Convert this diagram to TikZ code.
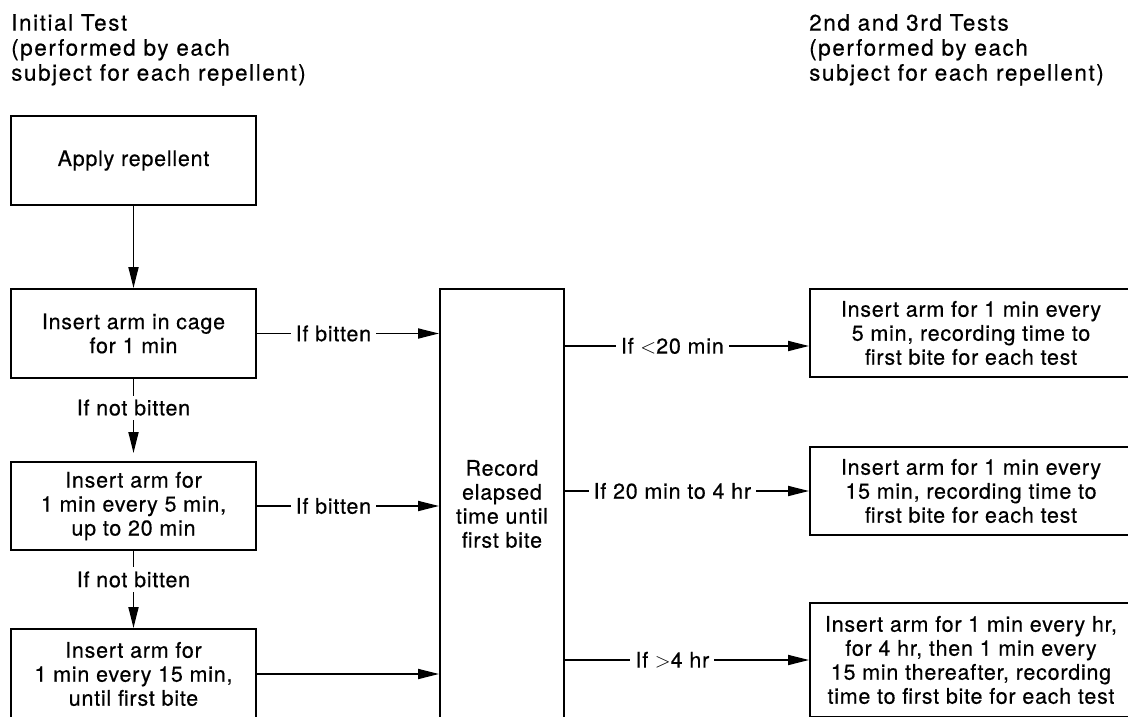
\documentclass[tikz,border=0pt]{standalone}
\usepackage{fontspec}
\setmainfont{TeX Gyre Heros}
\newfontfamily\boxfont[LetterSpace=3.5,FakeBold=0.4]{TeX Gyre Heros}
\newfontfamily\headfont[LetterSpace=7,FakeBold=0.4]{TeX Gyre Heros}
\usetikzlibrary{
  arrows.meta, % Triangle 箭头
  calc         % 坐标计算
}
\tikzset{
  stage box/.style={
    draw,
    rectangle,
    line width=2pt,
    align=center,
    inner sep=0pt,
    font=\boxfont\fontsize{21.5}{24}\selectfont
  },
  head text/.style={
    anchor=north west,
    align=left,
    inner sep=0pt,
    font=\headfont\fontsize{22.5}{25}\selectfont
  },
  flow/.style={
    -{Triangle[length=21pt,width=10pt]},
    line width=1.8pt
  },
  cond/.style={
    fill=white,
    inner xsep=5pt,
    inner ysep=4pt,
    font=\boxfont\fontsize{21.5}{24}\selectfont
  }
}

\begin{document}
\begin{tikzpicture}[x=1pt, y=-1pt]
  % 画布范围与参考图一致（1 pt 对应 1 像素，y 轴向下）
  \useasboundingbox (0,0) rectangle (1128,717);

  % ===================================
  % 两列标题
  % ===================================
  \node[head text] (headinit) at (11,14)
    {Initial Test\\(performed by each\\subject for each repellent)};
  \node[head text] (headrep) at (809,14)
    {2nd and 3rd Tests\\(performed by each\\subject for each repellent)};

  % ===================================
  % 左列：初次测试的各个步骤
  % ===================================
  \node[stage box, minimum width=245pt, minimum height=89pt] (apply) at (133.5,160.5)
    {Apply repellent};
  \node[stage box, minimum width=245pt, minimum height=89pt] (cage) at (133.5,333.5)
    {Insert arm in cage\\for 1 min};
  \node[stage box, minimum width=245pt, minimum height=88pt] (every5) at (133.5,506)
    {Insert arm for\\1 min every 5 min,\\up to 20 min};
  \node[stage box, minimum width=245pt, minimum height=90pt] (every15) at (133.5,674)
    {Insert arm for\\1 min every 15 min,\\until first bite};

  % 中间：记录时间（高框，下端超出画布）
  \node[stage box, minimum width=124pt, minimum height=430pt] (record) at (502,504)
    {Record\\elapsed\\time until\\first bite};

  % ===================================
  % 右列：第 2、3 次测试（右端超出画布）
  % ===================================
  \node[stage box, minimum width=322pt, minimum height=88pt] (retest5) at (971,333)
    {Insert arm for 1 min every\\5 min, recording time to\\first bite for each test};
  \node[stage box, minimum width=322pt, minimum height=88pt] (retest15) at (971,491)
    {Insert arm for 1 min every\\15 min, recording time to\\first bite for each test};
  \node[stage box, minimum width=322pt, minimum height=114pt] (retesthr) at (971,660)
    {Insert arm for 1 min every hr,\\for 4 hr, then 1 min every\\15 min thereafter, recording\\time to first bite for each test};

  % ===================================
  % 连线
  % ===================================
  % 左列向下
  \draw[flow] (apply) -- (cage);
  \draw[flow, shorten >=8pt] (cage) -- node[cond, pos=0.35] {If not bitten} (every5);
  \draw[flow] (every5) -- node[cond, pos=0.37] {If not bitten} (every15);

  % 左列 -> 记录框
  \draw[flow] (cage.east) -- node[cond, pos=0.42] {If bitten} (cage.east -| record.west);
  \draw[flow] (every5.east) -- node[cond, pos=0.42] {If bitten} (every5.east -| record.west);
  \draw[flow] (every15.east) -- (every15.east -| record.west);

  % 记录框 -> 右列（第一条箭头略低于框中线）
  \coordinate (in5) at ($(retest5.west)+(0,13)$);
  \draw[flow] (record.east |- in5) -- node[cond, pos=0.44] {If $<$20 min} (in5);
  \draw[flow] (record.east |- retest15.west) -- node[cond, pos=0.44] {If 20 min to 4 hr} (retest15.west);
  \draw[flow] (record.east |- retesthr.west) -- node[cond, pos=0.44] {If $>$4 hr} (retesthr.west);

\end{tikzpicture}
\end{document}
